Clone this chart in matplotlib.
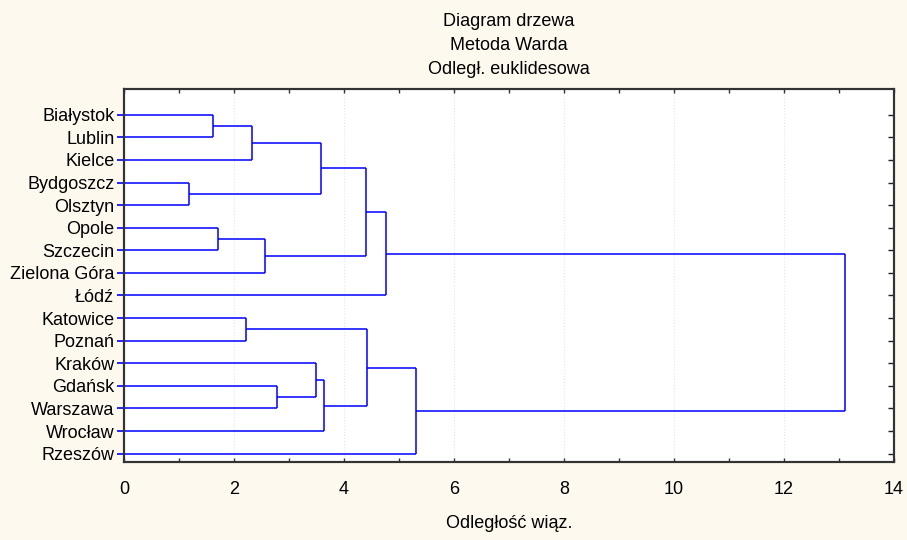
import numpy as np
import matplotlib.pyplot as plt
from matplotlib.ticker import MultipleLocator

plt.rcParams['font.family'] = ['Liberation Sans', 'DejaVu Sans']

leaves = ['Białystok', 'Lublin', 'Kielce', 'Bydgoszcz', 'Olsztyn', 'Opole',
          'Szczecin', 'Zielona Góra', 'Łódź', 'Katowice', 'Poznań', 'Kraków',
          'Gdańsk', 'Warszawa', 'Wrocław', 'Rzeszów']

# merges: (cluster a, cluster b, linkage distance); new clusters get ids 16, 17, ...
merge_a = [3, 0, 5, 9, 17, 18, 12, 11, 20, 23, 24, 19, 26, 27, 28]
merge_b = [4, 1, 6, 10, 2, 7, 13, 22, 16, 14, 21, 25, 8, 15, 29]
heights = [1.19, 1.62, 1.70, 2.21, 2.33, 2.57, 2.79, 3.49, 3.59, 3.64,
           4.40, 4.41, 4.77, 5.30, 13.10]

title_lines = ['Diagram drzewa', 'Metoda Warda', 'Odległ. euklidesowa']
xlabel = 'Odległość wiąz.'

bg = '#fdf9ee'
line_col = '#0000ff'
fs = 13

fig = plt.figure(figsize=(9.07, 5.40), dpi=100, facecolor=bg)
ax = fig.add_axes([124 / 907, 1 - 462 / 540, (894 - 124) / 907, (462 - 89) / 540])
ax.set_facecolor('white')

n = len(leaves)
ypos = {i: float(i) for i in range(n)}
xpos = {i: 0.0 for i in range(n)}

for k, (a, b, h) in enumerate(zip(merge_a, merge_b, heights)):
    ya, yb = ypos[a], ypos[b]
    ax.plot([xpos[a], h], [ya, ya], color=line_col, lw=1.1, solid_capstyle='butt')
    ax.plot([xpos[b], h], [yb, yb], color=line_col, lw=1.1, solid_capstyle='butt')
    ax.plot([h, h], [ya, yb], color=line_col, lw=1.1, solid_capstyle='butt')
    new = n + k
    ypos[new] = (ya + yb) / 2
    xpos[new] = h

ax.set_xlim(0, 14)
ax.set_ylim(15.37, -1.14)

ax.xaxis.set_major_locator(MultipleLocator(2))
ax.xaxis.set_minor_locator(MultipleLocator(1))
ax.tick_params(axis='x', which='both', direction='in', top=True, bottom=True,
               length=3, width=1, color='#333333', labelsize=fs, pad=14)
ax.grid(axis='x', which='major', linestyle=':', color='#e6e6e6', lw=0.8)

ax.set_yticks(range(n))
ax.set_yticklabels(leaves, fontsize=fs)
ax.tick_params(axis='y', which='major', direction='out', left=True, right=False,
               length=5, width=1.2, color=line_col, pad=2)
ax.tick_params(axis='y', which='minor', left=False, right=False)

# inward ticks on the right side at each leaf
ax2 = ax.twinx()
ax2.set_ylim(ax.get_ylim())
ax2.set_yticks(range(n))
ax2.set_yticklabels([])
ax2.tick_params(axis='y', direction='in', length=4, width=1, color='#222222')

for a_ in (ax, ax2):
    for s in a_.spines.values():
        s.set_color('#333333')
        s.set_linewidth(1.5)

ax.set_xlabel(xlabel, fontsize=fs, labelpad=12)

cx = (124 + 894) / 2 / 907
for i, t in enumerate(title_lines):
    fig.text(cx, 1 - (22 + 24 * i) / 540, t, ha='center', va='center', fontsize=fs)

fig.savefig('out.png', dpi=100, facecolor=bg)
